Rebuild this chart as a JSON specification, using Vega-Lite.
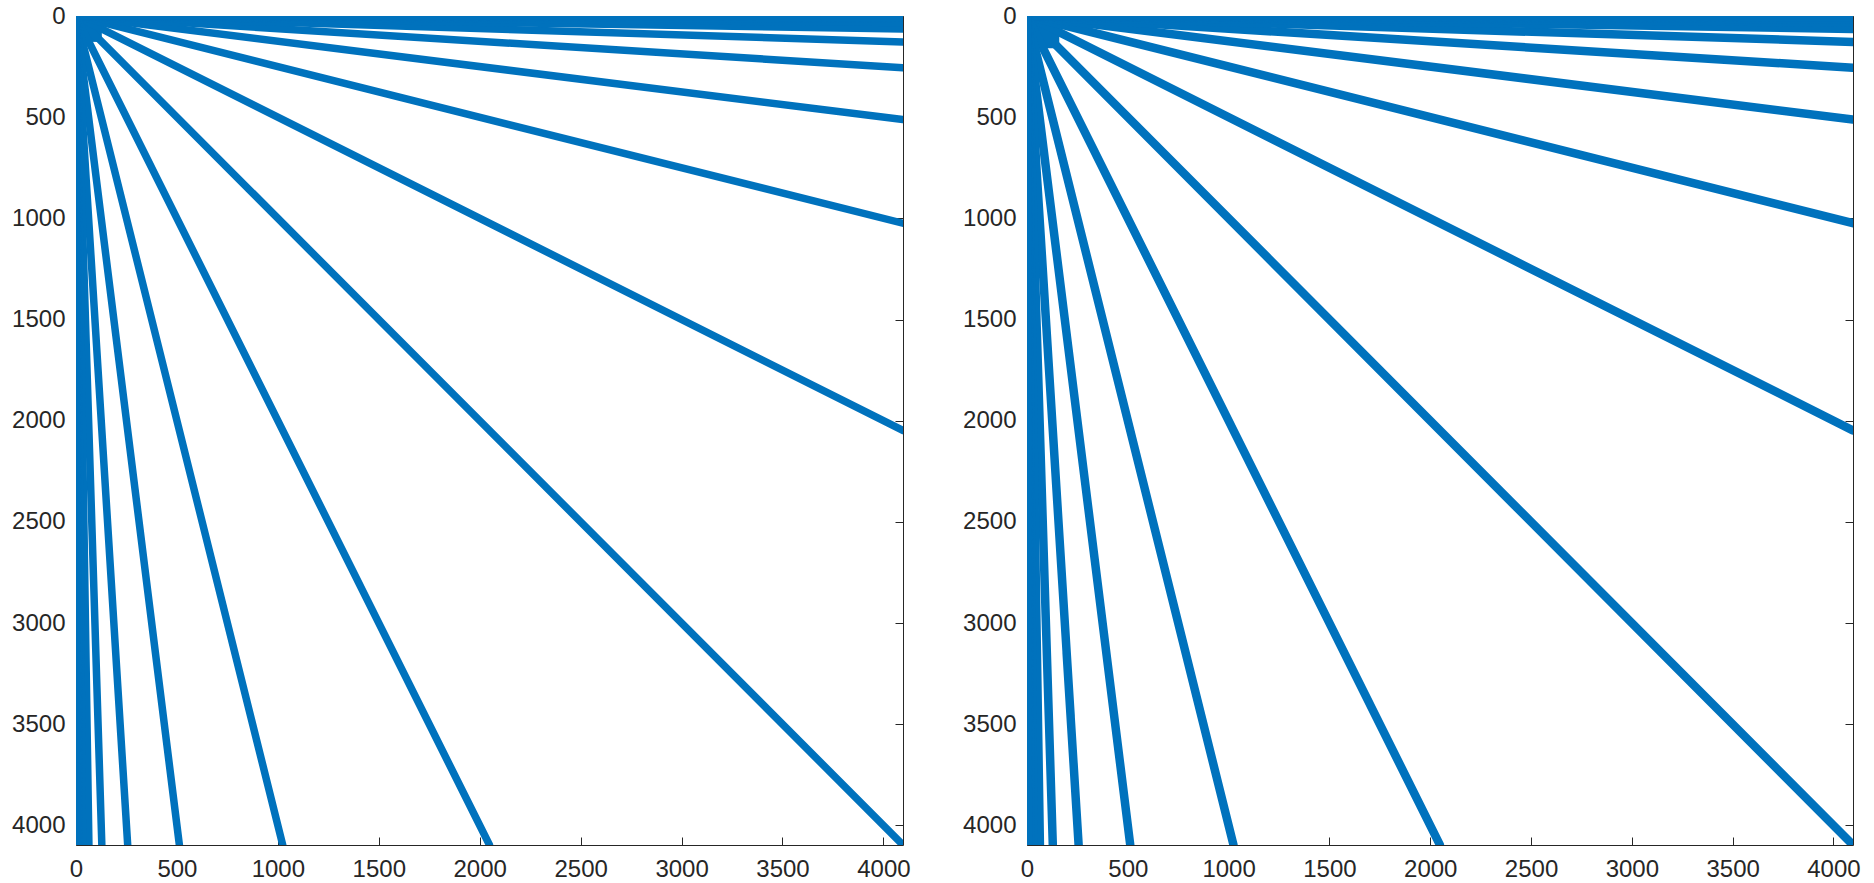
{
  "$schema": "https://vega.github.io/schema/vega-lite/v6.json",
  "background": "white",
  "padding": {"left": 11, "top": 3, "right": 5, "bottom": 5},
  "spacing": 51,
  "config": {
    "view": {"stroke": "#262626", "strokeWidth": 1},
    "axis": {
      "domain": false,
      "grid": false,
      "tickColor": "#262626",
      "tickWidth": 1,
      "tickSize": -8,
      "labelColor": "#262626",
      "labelFont": "Liberation Sans",
      "labelFontSize": 24,
      "title": null,
      "labelFlush": false,
      "labelOverlap": false
    },
    "axisX": {"labelPadding": 20},
    "axisY": {"labelPadding": 19}
  },
  "datasets": {
    "rays": [
      {"panel": "A", "c0": 0, "r0": 0, "c1": 4096, "r1": 4096},
      {"panel": "A", "c0": 0, "r0": 0, "c1": 4096, "r1": 2048},
      {"panel": "A", "c0": 0, "r0": 0, "c1": 4096, "r1": 1024},
      {"panel": "A", "c0": 0, "r0": 0, "c1": 4096, "r1": 512},
      {"panel": "A", "c0": 0, "r0": 0, "c1": 4096, "r1": 256},
      {"panel": "A", "c0": 0, "r0": 0, "c1": 4096, "r1": 128},
      {"panel": "A", "c0": 0, "r0": 0, "c1": 4096, "r1": 64},
      {"panel": "A", "c0": 0, "r0": 0, "c1": 4096, "r1": 32},
      {"panel": "A", "c0": 0, "r0": 0, "c1": 4096, "r1": 16},
      {"panel": "A", "c0": 0, "r0": 0, "c1": 4096, "r1": 8},
      {"panel": "A", "c0": 0, "r0": 0, "c1": 4096, "r1": 4},
      {"panel": "A", "c0": 0, "r0": 0, "c1": 2048, "r1": 4096},
      {"panel": "A", "c0": 0, "r0": 0, "c1": 1024, "r1": 4096},
      {"panel": "A", "c0": 0, "r0": 0, "c1": 512, "r1": 4096},
      {"panel": "A", "c0": 0, "r0": 0, "c1": 256, "r1": 4096},
      {"panel": "A", "c0": 0, "r0": 0, "c1": 128, "r1": 4096},
      {"panel": "A", "c0": 0, "r0": 0, "c1": 64, "r1": 4096},
      {"panel": "A", "c0": 0, "r0": 0, "c1": 32, "r1": 4096},
      {"panel": "A", "c0": 0, "r0": 0, "c1": 16, "r1": 4096},
      {"panel": "A", "c0": 0, "r0": 0, "c1": 8, "r1": 4096},
      {"panel": "A", "c0": 0, "r0": 0, "c1": 4, "r1": 4096},
      {"panel": "A", "c0": 3706, "r0": 6, "c1": 4096, "r1": 6},
      {"panel": "A", "c0": 6, "r0": 3706, "c1": 6, "r1": 4096},
      {"panel": "B", "c0": 0, "r0": 0, "c1": 4096, "r1": 4096},
      {"panel": "B", "c0": 0, "r0": 0, "c1": 4096, "r1": 2048},
      {"panel": "B", "c0": 0, "r0": 0, "c1": 4096, "r1": 1024},
      {"panel": "B", "c0": 0, "r0": 0, "c1": 4096, "r1": 512},
      {"panel": "B", "c0": 0, "r0": 0, "c1": 4096, "r1": 256},
      {"panel": "B", "c0": 0, "r0": 0, "c1": 4096, "r1": 128},
      {"panel": "B", "c0": 0, "r0": 0, "c1": 4096, "r1": 64},
      {"panel": "B", "c0": 0, "r0": 0, "c1": 4096, "r1": 32},
      {"panel": "B", "c0": 0, "r0": 0, "c1": 4096, "r1": 16},
      {"panel": "B", "c0": 0, "r0": 0, "c1": 4096, "r1": 8},
      {"panel": "B", "c0": 0, "r0": 0, "c1": 4096, "r1": 4},
      {"panel": "B", "c0": 0, "r0": 0, "c1": 2048, "r1": 4096},
      {"panel": "B", "c0": 0, "r0": 0, "c1": 1024, "r1": 4096},
      {"panel": "B", "c0": 0, "r0": 0, "c1": 512, "r1": 4096},
      {"panel": "B", "c0": 0, "r0": 0, "c1": 256, "r1": 4096},
      {"panel": "B", "c0": 0, "r0": 0, "c1": 128, "r1": 4096},
      {"panel": "B", "c0": 0, "r0": 0, "c1": 64, "r1": 4096},
      {"panel": "B", "c0": 0, "r0": 0, "c1": 32, "r1": 4096},
      {"panel": "B", "c0": 0, "r0": 0, "c1": 16, "r1": 4096},
      {"panel": "B", "c0": 0, "r0": 0, "c1": 8, "r1": 4096},
      {"panel": "B", "c0": 0, "r0": 0, "c1": 4, "r1": 4096},
      {"panel": "B", "c0": 3830, "r0": 6, "c1": 4096, "r1": 6},
      {"panel": "B", "c0": 6, "r0": 3830, "c1": 6, "r1": 4096}
    ],
    "blocks": [
      {"panel": "A", "c0": 0, "r0": 0, "c1": 128, "r1": 128},
      {"panel": "B", "c0": 0, "r0": 0, "c1": 160, "r1": 160}
    ]
  },
  "hconcat": [
    {
      "width": 827,
      "height": 829,
      "layer": [
        {
          "data": {"name": "blocks"},
          "transform": [{"filter": "datum.panel == 'A'"}],
          "mark": {"type": "rect", "color": "#0072BD", "clip": true},
          "encoding": {
            "x": {"field": "c0", "type": "quantitative", "scale": {"domain": [0, 4097], "nice": false, "zero": false}, "axis": {"orient": "bottom", "values": [0, 500, 1000, 1500, 2000, 2500, 3000, 3500, 4000], "format": "d"}},
            "x2": {"field": "c1"},
            "y": {"field": "r0", "type": "quantitative", "scale": {"domain": [0, 4097], "nice": false, "zero": false, "reverse": true}, "axis": {"orient": "left", "values": [0, 500, 1000, 1500, 2000, 2500, 3000, 3500, 4000], "format": "d"}},
            "y2": {"field": "r1"}
          }
        },
        {
          "data": {"name": "rays"},
          "transform": [{"filter": "datum.panel == 'A'"}],
          "mark": {"type": "rule", "color": "#0072BD", "strokeWidth": 7.5, "strokeCap": "round", "clip": true},
          "encoding": {
            "x": {"field": "c0", "type": "quantitative", "axis": {"orient": "top", "labels": false, "values": [0, 500, 1000, 1500, 2000, 2500, 3000, 3500, 4000]}},
            "x2": {"field": "c1"},
            "y": {"field": "r0", "type": "quantitative", "axis": {"orient": "right", "labels": false, "values": [0, 500, 1000, 1500, 2000, 2500, 3000, 3500, 4000]}},
            "y2": {"field": "r1"}
          }
        }
      ],
      "resolve": {"axis": {"x": "independent", "y": "independent"}}
    },
    {
      "width": 826,
      "height": 829,
      "layer": [
        {
          "data": {"name": "blocks"},
          "transform": [{"filter": "datum.panel == 'B'"}],
          "mark": {"type": "rect", "color": "#0072BD", "clip": true},
          "encoding": {
            "x": {"field": "c0", "type": "quantitative", "scale": {"domain": [0, 4097], "nice": false, "zero": false}, "axis": {"orient": "bottom", "values": [0, 500, 1000, 1500, 2000, 2500, 3000, 3500, 4000], "format": "d"}},
            "x2": {"field": "c1"},
            "y": {"field": "r0", "type": "quantitative", "scale": {"domain": [0, 4097], "nice": false, "zero": false, "reverse": true}, "axis": {"orient": "left", "values": [0, 500, 1000, 1500, 2000, 2500, 3000, 3500, 4000], "format": "d"}},
            "y2": {"field": "r1"}
          }
        },
        {
          "data": {"name": "rays"},
          "transform": [{"filter": "datum.panel == 'B'"}],
          "mark": {"type": "rule", "color": "#0072BD", "strokeWidth": 8.5, "strokeCap": "round", "clip": true},
          "encoding": {
            "x": {"field": "c0", "type": "quantitative", "axis": {"orient": "top", "labels": false, "values": [0, 500, 1000, 1500, 2000, 2500, 3000, 3500, 4000]}},
            "x2": {"field": "c1"},
            "y": {"field": "r0", "type": "quantitative", "axis": {"orient": "right", "labels": false, "values": [0, 500, 1000, 1500, 2000, 2500, 3000, 3500, 4000]}},
            "y2": {"field": "r1"}
          }
        }
      ],
      "resolve": {"axis": {"x": "independent", "y": "independent"}}
    }
  ]
}
